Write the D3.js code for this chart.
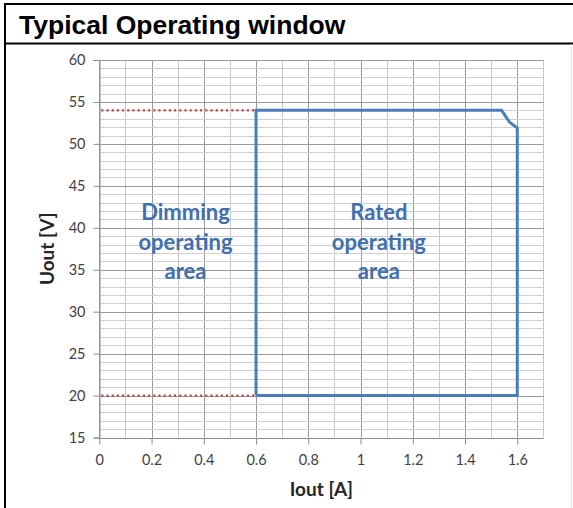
<!DOCTYPE html>
<html>
<head>
<meta charset="utf-8">
<script src="https://cdn.jsdelivr.net/npm/d3@7"></script>
<style>
  html, body { margin: 0; padding: 0; background: #fff; }
  svg { display: block; }
</style>
</head>
<body>
<svg id="chart" width="573" height="508"></svg>
<script>
// Operating window boundary (Iout in A, Uout in V)
const ratedIout = [0.6, 0.6, 1.54, 1.57, 1.6, 1.6, 0.6];
const ratedUout = [20, 54, 54, 52.6, 51.9, 20, 20];
// Dimming limits drawn as dotted lines from 0 A to 0.6 A
const dimLevels = [54, 20];
const dimIout = [0, 0.6];
// Axis ticks
const xTicks = [0, 0.2, 0.4, 0.6, 0.8, 1, 1.2, 1.4, 1.6];
const yTicks = [15, 20, 25, 30, 35, 40, 45, 50, 55, 60];
const xMinor = d3.range(0, 1.71, 0.1).map(v => +v.toFixed(2));
const yMinor = d3.range(15, 61, 1);
const areaLabels = [
  { x: 0.33, y: 38.2, lines: ["Dimming", "operating", "area"] },
  { x: 1.07, y: 38.2, lines: ["Rated", "operating", "area"] }
];

const svg = d3.select("#chart");
const W = 573, H = 508;

// Frame and title bar
svg.append("line").attr("x1", 5).attr("x2", W).attr("y1", 4).attr("y2", 4)
  .attr("stroke", "#000").attr("stroke-width", 2);
svg.append("line").attr("x1", 5).attr("x2", W).attr("y1", 43.5).attr("y2", 43.5)
  .attr("stroke", "#000").attr("stroke-width", 2);
svg.append("line").attr("x1", 5).attr("x2", 5).attr("y1", 3).attr("y2", H)
  .attr("stroke", "#000").attr("stroke-width", 2);
svg.append("line").attr("x1", 571.5).attr("x2", 571.5).attr("y1", 44).attr("y2", H)
  .attr("stroke", "#e6e6e6").attr("stroke-width", 1);
svg.append("text").attr("x", 19).attr("y", 34)
  .attr("font-family", "'Liberation Sans', Arial, sans-serif")
  .attr("font-weight", "bold").attr("font-size", 26.5).attr("fill", "#000")
  .text("Typical Operating window");

const x = d3.scaleLinear().domain([0, 1.7]).range([99.3, 543.4]);
const y = d3.scaleLinear().domain([15, 60]).range([437.5, 60]);

const g = svg.append("g");

// Minor grid
g.selectAll(".vmin").data(xMinor).join("line")
  .attr("x1", d => Math.round(x(d)) + 0.5).attr("x2", d => Math.round(x(d)) + 0.5)
  .attr("y1", y(60)).attr("y2", y(15))
  .attr("stroke", d => Math.abs((d * 10) % 2) < 0.01 ? "#9a9a9a" : "#c8c8c8").attr("stroke-width", 1);
g.selectAll(".hmin").data(yMinor).join("line")
  .attr("x1", x(0)).attr("x2", x(1.7))
  .attr("y1", d => Math.round(y(d)) + 0.5).attr("y2", d => Math.round(y(d)) + 0.5)
  .attr("stroke", d => d % 5 === 0 ? "#9a9a9a" : "#cfcfcf").attr("stroke-width", 1);

// Axes
const axisColor = "#8c8c8c";
const yAxis = g.append("g").attr("transform", `translate(${Math.round(x(0)) + 0.5},0)`)
  .call(d3.axisLeft(y).tickValues(yTicks).tickSize(6).tickPadding(8).tickFormat(d3.format("d")));
const xAxis = g.append("g").attr("transform", `translate(0,${Math.round(y(15)) + 0.5})`)
  .call(d3.axisBottom(x).tickValues(xTicks).tickSize(6).tickPadding(10).tickFormat(d => d3.format("")(d)));
[xAxis, yAxis].forEach(a => {
  a.select(".domain").attr("stroke", axisColor);
  a.selectAll(".tick line").attr("stroke", axisColor);
  a.selectAll(".tick text").attr("font-family", "Lato, 'Open Sans', sans-serif")
    .attr("font-size", 14.5).attr("fill", "#3f3f46");
});
xAxis.select(".domain").attr("d", `M${x(0)},0H${x(1.7)}`);

// Dotted dimming limits
g.selectAll(".dim").data(dimLevels).join("line")
  .attr("x1", x(dimIout[0]) + 2).attr("x2", x(dimIout[1]))
  .attr("y1", d => y(d)).attr("y2", d => y(d))
  .attr("stroke", "#b5413e").attr("stroke-width", 2.2)
  .attr("stroke-dasharray", "2,3.2");

// Rated window outline
const pts = ratedIout.map((v, i) => [v, ratedUout[i]]);
g.append("path").datum(pts)
  .attr("d", d3.line().x(d => x(d[0])).y(d => y(d[1])))
  .attr("fill", "none").attr("stroke", "#4a7ebb").attr("stroke-width", 3)
  .attr("stroke-linejoin", "miter");

// Area labels
areaLabels.forEach(l => {
  const t = g.append("text").attr("text-anchor", "middle")
    .attr("font-family", "Lato, 'Open Sans', sans-serif").attr("font-weight", "bold")
    .attr("font-size", 22).attr("fill", "#3f6fae");
  l.lines.forEach((s, i) => {
    t.append("tspan").attr("x", x(l.x)).attr("y", y(l.y) + 7 + (i - 1) * 29.5).text(s);
  });
});

// Axis titles
svg.append("text").attr("x", (x(0) + x(1.7)) / 2).attr("y", 496)
  .attr("text-anchor", "middle").attr("font-family", "Lato, 'Open Sans', sans-serif")
  .attr("font-weight", "bold").attr("font-size", 19).attr("fill", "#262626").text("Iout [A]");
svg.append("text").attr("transform", `translate(54,${(y(15) + y(60)) / 2}) rotate(-90)`)
  .attr("text-anchor", "middle").attr("font-family", "Lato, 'Open Sans', sans-serif")
  .attr("font-weight", "bold").attr("font-size", 19).attr("fill", "#262626").text("Uout [V]");
</script>
</body>
</html>
